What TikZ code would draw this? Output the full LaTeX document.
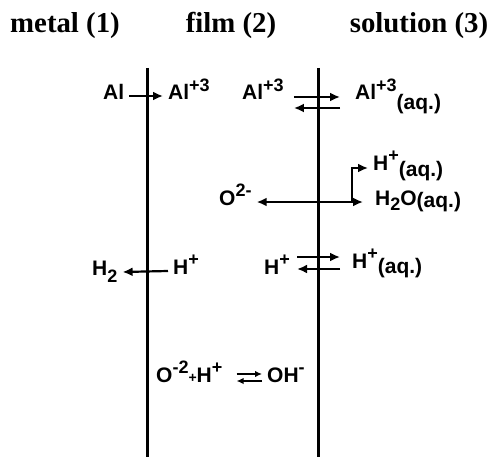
\documentclass[tikz,border=0pt]{standalone}
\usepackage{fontspec}
\setmainfont{Liberation Serif}
\setsansfont{Liberation Sans}
\usetikzlibrary{arrows.meta}

% raised / lowered parts of the species labels
\newcommand{\upsc}[1]{\raisebox{8.5pt}{\fontsize{18}{18}\selectfont #1}}
\newcommand{\dnsc}[2][5pt]{\raisebox{-#1}{\fontsize{18}{18}\selectfont #2}}
\newcommand{\aq}[1][4pt]{\raisebox{-#1}{(aq.)}}

\begin{document}
\begin{tikzpicture}[
    x=1pt, y=-1pt,
    phase/.style={font=\bfseries\fontsize{28.8}{30}\selectfont, anchor=base, inner sep=0pt},
    species/.style={font=\sffamily\bfseries\fontsize{21}{22}\selectfont,
      anchor=base west, inner xsep=5pt, inner ysep=0pt},
    iface/.style={line width=3pt},
    arr/.style={-{Latex[length=10pt,width=9pt]}, line width=2.2pt},
    arrBoth/.style={{Latex[length=10pt,width=9pt]}-{Latex[length=10pt,width=9pt]}, line width=2.2pt},
    arrSmall/.style={-{Latex[length=7pt,width=6.5pt]}, line width=2pt}
  ]
  \useasboundingbox (0,0) rectangle (494,457);

  % Phases
  \node[phase] (metal) at (65,33)  {metal (1)};
  \node[phase] (film)  at (231,33) {film (2)};
  \node[phase] (soln)  at (419,33) {solution (3)};

  % Interfaces
  \coordinate (mTop) at (147,68);
  \coordinate (mBot) at (147,457);
  \coordinate (sTop) at (318,68);
  \coordinate (sBot) at (318,457);
  \draw[iface] (mTop) -- (mBot);
  \draw[iface] (sTop) -- (sBot);

  % Aluminium
  \node[species] (al)    at (98,100)  {Al};
  \node[species] (al3f)  at (163,100) {Al\upsc{+3}};
  \node[species] (al3s)  at (237,100) {Al\upsc{+3}};
  \node[species] (al3aq) at (350,100) {Al\upsc{+3}\aq[10pt]};

  % Oxide ion and water
  \node[species] (o2)   at (214,205) {O\upsc{2-}};
  \node[species] (hpaq) at (368,170) {H\upsc{+}\aq[6pt]};
  \node[species] (h2o)  at (370,205) {H\dnsc{2}O\aq[2pt]};
  \coordinate (split) at (352,202);

  % Protons
  \node[species] (h2)    at (87,275)  {H\dnsc[7pt]{2}};
  \node[species] (hp1)   at (168,274) {H\upsc{+}};
  \node[species] (hp2)   at (259,274) {H\upsc{+}};
  \node[species] (hpaq2) at (347,268) {H\upsc{+}\aq[5pt]};

  % Film equilibrium
  \node[species] (eqL) at (151,382) {O\upsc{-2}{\fontsize{14}{14}\selectfont +}H\upsc{+}};
  \node[species] (eqR) at (262,382) {OH\upsc{-}};

  % Transfers
  \draw[arr] ([yshift=4pt]al.base east) -- ([yshift=4pt]al3f.base west);
  \draw[arr] ([xshift=5pt,yshift=3pt]al3s.base east) -- ([xshift=-10pt,yshift=3pt]al3aq.base west);
  \draw[arr] ([xshift=-10pt,yshift=-8pt]al3aq.base west) -- ([xshift=5pt,yshift=-8pt]al3s.base east);

  \draw[arrBoth] ([yshift=3pt]o2.base east) -- ([xshift=-7pt,yshift=3pt]h2o.base west);
  \draw[arr] (split) |- ([yshift=2pt]hpaq.base west);

  \draw[arr] ([yshift=3pt]hp1.base west) -- ([yshift=3pt]h2.base east);
  \draw[arr] ([xshift=2pt,yshift=17pt]hp2.base east) -- ([xshift=-7pt,yshift=11pt]hpaq2.base west);
  \draw[arr] ([xshift=-7pt,yshift=-1pt]hpaq2.base west) -- ([xshift=2pt,yshift=5pt]hp2.base east);

  \draw[arrSmall] ([xshift=9pt,yshift=8pt]eqL.base east) -- ([yshift=8pt]eqR.base west);
  \draw[arrSmall] ([yshift=1pt]eqR.base west) -- ([xshift=9pt,yshift=1pt]eqL.base east);
\end{tikzpicture}
\end{document}
